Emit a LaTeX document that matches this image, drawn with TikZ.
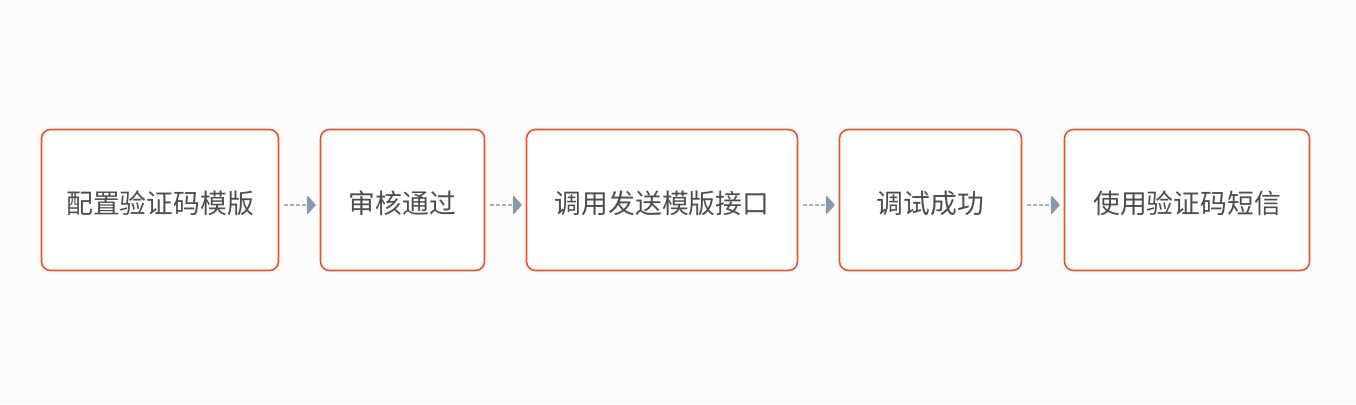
\documentclass[tikz,border=0pt]{standalone}
\usepackage{fontspec}
\newfontfamily\cjk{Noto Sans CJK SC}
\usetikzlibrary{arrows.meta}
\definecolor{bgc}{HTML}{FCFCFC}
\definecolor{boxc}{HTML}{E8532B}
\definecolor{txtc}{HTML}{4D4D4D}
\definecolor{linec}{HTML}{A9B4BE}
\definecolor{headc}{HTML}{8A99A6}
\tikzset{
  stepbox/.style={draw=boxc, line width=1.6pt, rounded corners=9pt, fill=white,
    minimum height=141pt, inner sep=0pt, text=txtc},
  steptext/.style={font=\cjk\fontsize{26.8}{30}\selectfont, text=txtc, inner sep=0pt},
  flow/.style={draw=linec, line width=1.5pt, dash pattern=on 4pt off 2pt,
    -{Triangle[length=9pt,width=20pt,round,color=headc,fill=headc]},
    shorten <=5pt, shorten >=4pt}
}
\begin{document}
\begin{tikzpicture}[x=1pt,y=1pt]
\fill[bgc] (0,0) rectangle (1356,-404);
\useasboundingbox (0,0) rectangle (1356,-404);
\node[stepbox, minimum width=237pt] (b1) at (160,-200) {};
\node[stepbox, minimum width=164pt] (b2) at (402.5,-200) {};
\node[stepbox, minimum width=271pt] (b3) at (662,-200) {};
\node[stepbox, minimum width=182pt] (b4) at (930.5,-200) {};
\node[stepbox, minimum width=245pt] (b5) at (1187,-200) {};
\node[steptext] (t1) at ([yshift=-3pt]b1.center) {配置验证码模版};
\node[steptext] (t2) at ([yshift=-3pt]b2.center) {审核通过};
\node[steptext] (t3) at ([yshift=-3pt]b3.center) {调用发送模版接口};
\node[steptext] (t4) at ([yshift=-3pt]b4.center) {调试成功};
\node[steptext] (t5) at ([yshift=-3pt]b5.center) {使用验证码短信};
\draw[flow] ([yshift=-5pt]b1.east) -- ([yshift=-5pt]b2.west);
\draw[flow] ([yshift=-5pt]b2.east) -- ([yshift=-5pt]b3.west);
\draw[flow] ([yshift=-5pt]b3.east) -- ([yshift=-5pt]b4.west);
\draw[flow] ([yshift=-5pt]b4.east) -- ([yshift=-5pt]b5.west);
\end{tikzpicture}
\end{document}
